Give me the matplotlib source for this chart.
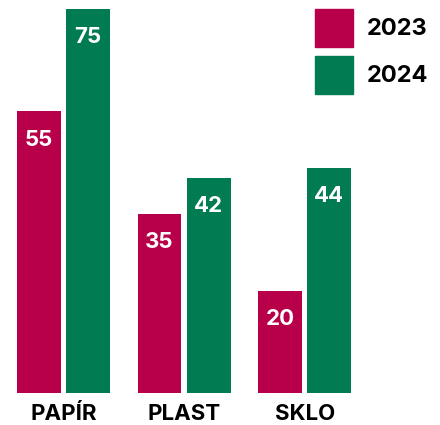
import matplotlib.pyplot as plt
from matplotlib.patches import Patch

# data
categories = ['PAPÍR', 'PLAST', 'SKLO']
years = ['2023', '2024']
values_2023 = [55, 35, 20]
values_2024 = [75, 42, 44]

red = '#B8004A'
green = '#007B52'

plt.rcParams['font.family'] = ['Inter', 'DejaVu Sans']

fig = plt.figure(figsize=(4.4, 4.25), dpi=100)
ax = fig.add_axes([0, 32 / 425, 1, 393 / 425])

x = list(range(len(categories)))
w = 0.364
off = 0.203

bars1 = ax.bar([i - off for i in x], values_2023, w, color=red)
bars2 = ax.bar([i + off for i in x], values_2024, w, color=green)

for bars, vals in [(bars1, values_2023), (bars2, values_2024)]:
    for b, v in zip(bars, vals):
        ax.annotate(str(v), (b.get_x() + b.get_width() / 2, v),
                    xytext=(0, -20.5), textcoords='offset points',
                    ha='center', va='center', color='white',
                    fontsize=16, fontweight='bold')

ax.set_xlim(-0.524, 3.12)
ax.set_ylim(0, 76.76)
ax.set_xticks(x)
ax.set_xticklabels(categories, fontsize=16, fontweight='bold')
ax.tick_params(axis='x', length=0, pad=8)
ax.set_yticks([])
for s in ax.spines.values():
    s.set_visible(False)

handles = [Patch(color=red), Patch(color=green)]
leg = fig.legend(handles, years, loc='upper left',
                 bbox_to_anchor=(315 / 440, 1 - 9 / 425),
                 frameon=False, prop={'size': 17, 'weight': 'bold'},
                 handlelength=1.6, handleheight=2.1,
                 handletextpad=0.6, labelspacing=0.38, borderpad=0,
                 borderaxespad=0)

fig.savefig('out.png', dpi=100)
